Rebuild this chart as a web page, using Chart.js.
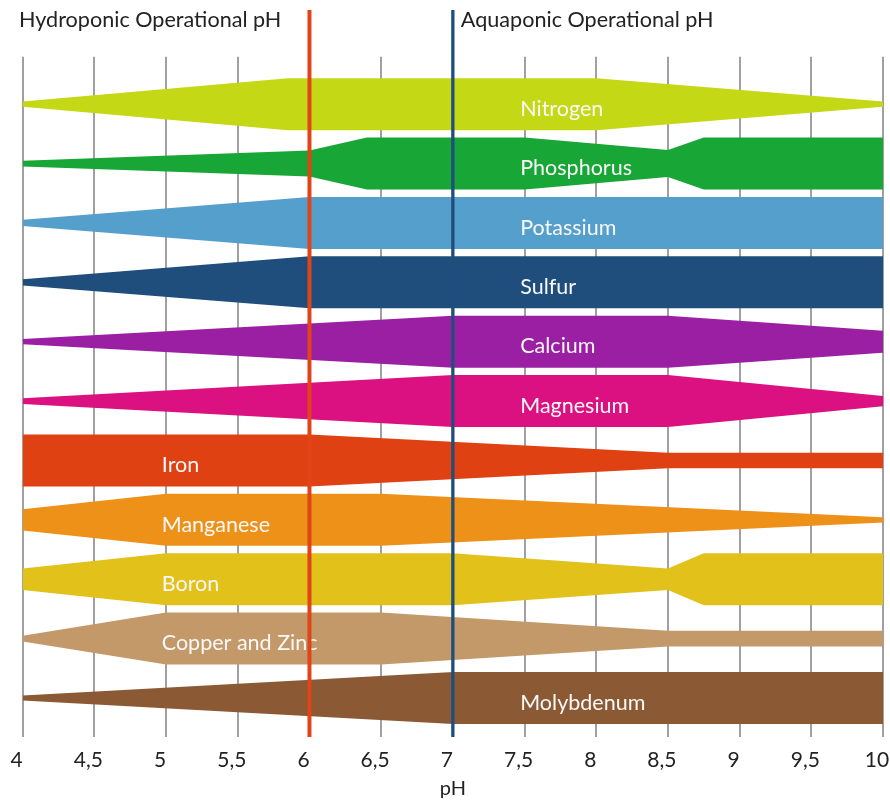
<!DOCTYPE html>
<html><head><meta charset="utf-8">
<script src="https://cdn.jsdelivr.net/npm/chart.js@4.4.1/dist/chart.umd.min.js"></script>
<style>html,body{margin:0;padding:0;background:#fff;} #wrap{width:890px;height:801px;position:relative;}</style>
</head><body><div id="wrap"><canvas id="c"></canvas></div>
<script>
// Nutrient availability bands: pH points and relative band width (1 = full availability)
const nutrients = ['Nitrogen','Phosphorus','Potassium','Sulfur','Calcium','Magnesium','Iron','Manganese','Boron','Copper and Zinc','Molybdenum'];
const bandColors = ['#c5d816','#18a637','#559fcc','#1f4e7d','#9a1fa3','#db1182','#df4113','#ed9119','#e1c11a','#c4996a','#8b5a35'];
const nitrogenPH   = [4, 5.85, 8, 10];            const nitrogenW   = [0.1, 1, 1, 0.1];
const phosphorusPH = [4, 6, 6.4, 7.5, 8.5, 8.75, 10]; const phosphorusW = [0.11, 0.5, 1, 1, 0.52, 1, 1];
const potassiumPH  = [4, 6, 10];                  const potassiumW  = [0.12, 1, 1];
const sulfurPH     = [4, 6, 10];                  const sulfurW     = [0.12, 1, 1];
const calciumPH    = [4, 7, 8.5, 10];             const calciumW    = [0.1, 1, 1, 0.42];
const magnesiumPH  = [4, 7, 8.5, 10];             const magnesiumW  = [0.11, 1, 1, 0.2];
const ironPH       = [4, 6, 8.5, 10];             const ironW       = [1, 1, 0.3, 0.3];
const manganesePH  = [4, 5, 6.5, 10];             const manganeseW  = [0.41, 1, 1, 0.1];
const boronPH      = [4, 5, 7, 8.5, 8.75, 10];    const boronW      = [0.41, 1, 1, 0.41, 1, 1];
const copperZincPH = [4, 5, 6.5, 8.5, 10];        const copperZincW = [0.11, 1, 1, 0.3, 0.3];
const molybdenumPH = [4, 7, 10];                  const molybdenumW = [0.1, 1, 1];
const labelPH = [7.47, 7.47, 7.47, 7.47, 7.47, 7.47, 4.97, 4.97, 4.97, 4.97, 7.47];
const hydroponicPH = 6;
const aquaponicPH = 7;
const xTicks = [4, 4.5, 5, 5.5, 6, 6.5, 7, 7.5, 8, 8.5, 9, 9.5, 10];
const xTickLabels = ['4','4,5','5','5,5','6','6,5','7','7,5','8','8,5','9','9,5','10'];
const hydroTitle = 'Hydroponic Operational pH';
const aquaTitle = 'Aquaponic Operational pH';

const bandPH = [nitrogenPH, phosphorusPH, potassiumPH, sulfurPH, calciumPH, magnesiumPH, ironPH, manganesePH, boronPH, copperZincPH, molybdenumPH];
const bandW  = [nitrogenW, phosphorusW, potassiumW, sulfurW, calciumW, magnesiumW, ironW, manganeseW, boronW, copperZincW, molybdenumW];
const HALF = 0.438; // half of full band thickness, in row units

const datasets = [];
nutrients.forEach((name, i) => {
  const ph = bandPH[i], w = bandW[i];
  datasets.push({
    label: name,
    data: ph.map((p, k) => ({x: p, y: i - w[k] * HALF})),
    backgroundColor: bandColors[i], borderWidth: 0, pointRadius: 0, tension: 0,
    fill: '+1'
  });
  datasets.push({
    label: name + ' low',
    data: ph.map((p, k) => ({x: p, y: i + w[k] * HALF})),
    backgroundColor: bandColors[i], borderWidth: 0, pointRadius: 0, tension: 0,
    fill: false
  });
});

const overlay = {
  id: 'overlay',
  afterDatasetsDraw(chart) {
    const {ctx, chartArea, scales: {x, y}} = chart;
    ctx.save();
    ctx.font = '21.5px Lato';
    ctx.fillStyle = '#f8f8f8';
    ctx.textBaseline = 'alphabetic';
    ctx.textAlign = 'left';
    nutrients.forEach((n, i) => {
      ctx.fillText(n, x.getPixelForValue(labelPH[i]), y.getPixelForValue(i) + 11.7);
    });
    const xr = x.getPixelForValue(hydroponicPH);
    const xb = x.getPixelForValue(aquaponicPH);
    ctx.lineWidth = 4; ctx.strokeStyle = '#e04418';
    ctx.beginPath(); ctx.moveTo(xr, 10); ctx.lineTo(xr, chartArea.bottom); ctx.stroke();
    ctx.lineWidth = 3.3; ctx.strokeStyle = '#1f4e7d';
    ctx.beginPath(); ctx.moveTo(xb, 10); ctx.lineTo(xb, chartArea.bottom); ctx.stroke();
    ctx.font = '21.6px Lato';
    ctx.fillStyle = '#222';
    ctx.fillText(hydroTitle, 19, 27);
    ctx.fillText(aquaTitle, xb + 8, 27);
    ctx.restore();
  }
};

new Chart(document.getElementById('c'), {
  type: 'line',
  data: { datasets },
  options: {
    responsive: true, maintainAspectRatio: false, animation: false,
    layout: { padding: { left: 22.7, right: 7, top: 56.7, bottom: 0 } },
    plugins: { legend: { display: false }, tooltip: { enabled: false } },
    scales: {
      x: {
        type: 'linear', min: 4, max: 10,
        afterBuildTicks: s => { s.ticks = xTicks.map(v => ({value: v})); },
        afterFit: s => { s.paddingLeft = 0; s.paddingRight = 0; s.height = 64; },
        ticks: {
          labelOffset: -6, padding: 11, color: '#222', maxRotation: 0, autoSkip: false,
          font: { family: 'Lato', size: 21 },
          callback: (v) => { const k = xTicks.indexOf(v); return k >= 0 ? xTickLabels[k] : ''; }
        },
        grid: { color: '#a0a0a0', lineWidth: 2, drawTicks: false },
        border: { display: false },
        title: { display: true, text: 'pH', color: '#222', font: { family: 'Lato', size: 20 }, padding: { top: 0, bottom: 0 } }
      },
      y: { display: false, reverse: true, min: -0.80, max: 10.657 }
    }
  },
  plugins: [overlay]
});
</script></body></html>
